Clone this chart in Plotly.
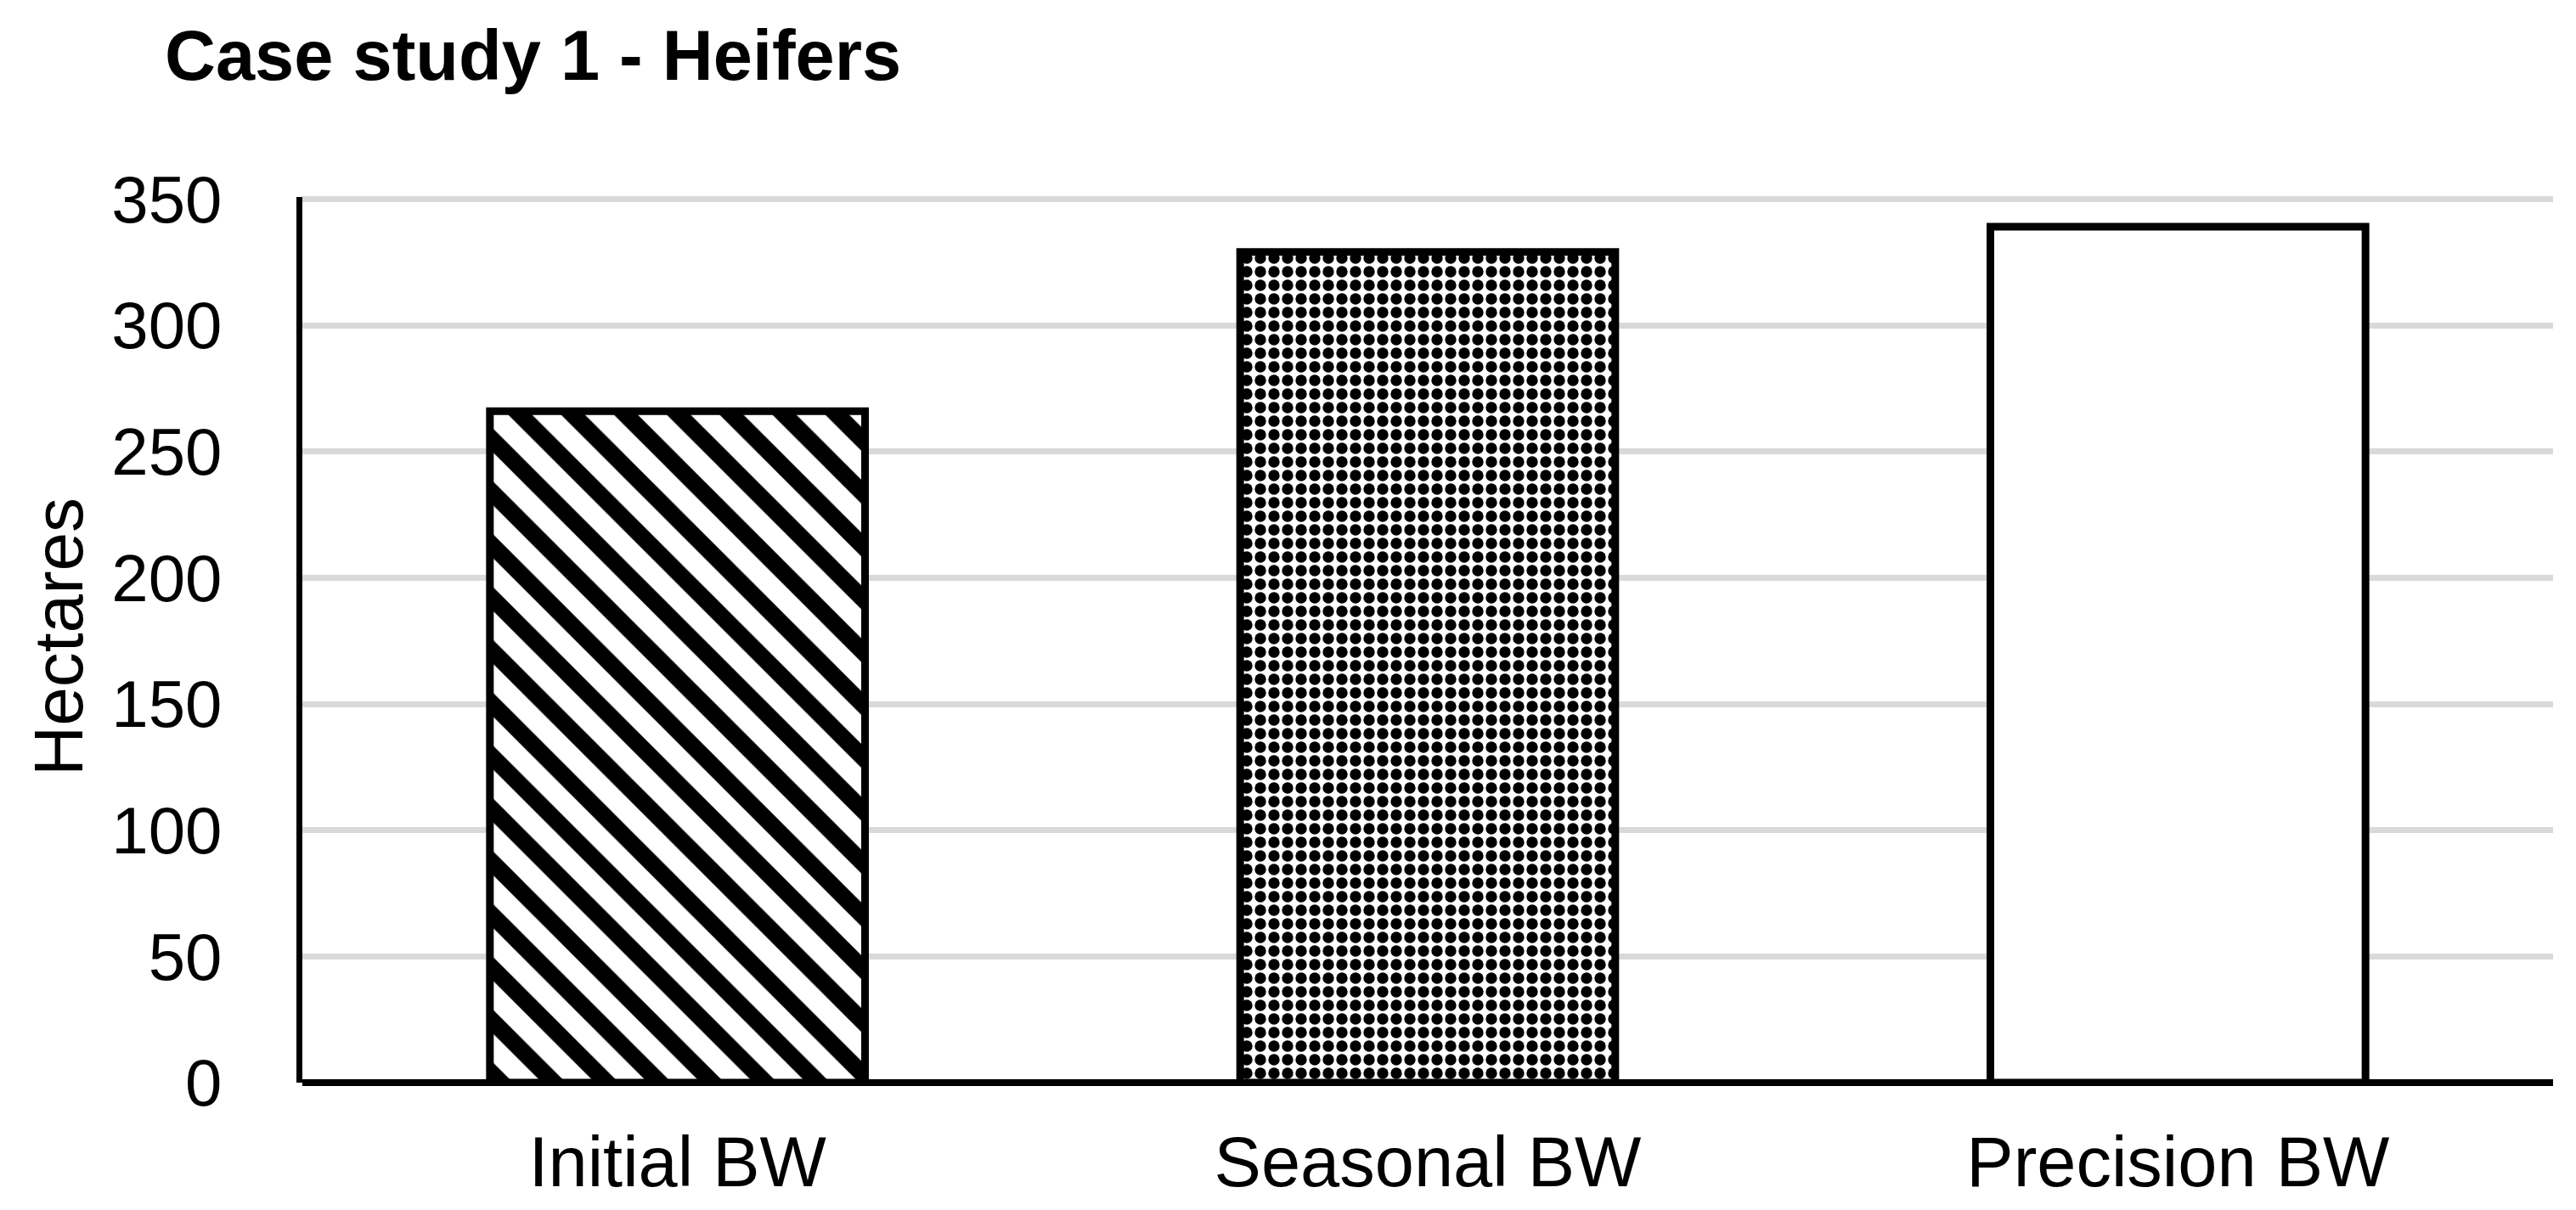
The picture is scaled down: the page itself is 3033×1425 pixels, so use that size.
import plotly.graph_objects as go

categories = ["Initial BW", "Seasonal BW", "Precision BW"]
hectares = [266, 329, 339]
pattern_shapes = ["\\", ".", ""]
y_ticks = [0, 50, 100, 150, 200, 250, 300, 350]

W, H = 3033, 1425
L, R, T, B = 348, 35, 224, 158

fig = go.Figure()
fig.add_trace(go.Bar(
    x=categories,
    y=hectares,
    width=0.5,
    marker=dict(
        color="white",
        line=dict(color="black", width=9),
        pattern=dict(
            shape=pattern_shapes,
            fgcolor="black",
            bgcolor="white",
            size=[44, 16, 10],
            solidity=[0.45, 0.55, 0.3],
            fillmode="replace",
        ),
    ),
    showlegend=False,
))

font_family = "Liberation Sans, Arial, sans-serif"

fig.update_layout(
    width=W, height=H,
    margin=dict(l=L, r=R, t=T, b=B, pad=0),
    paper_bgcolor="white",
    plot_bgcolor="white",
    font=dict(family=font_family, color="black"),
    title=dict(
        text="<b>Case study 1 - Heifers</b>",
        font=dict(size=83, family=font_family, color="black"),
        xref="container", yref="container",
        x=186 / W, xanchor="left",
        y=1 - 57 / H, yanchor="middle",
    ),
    bargap=0.5,
    xaxis=dict(
        showgrid=False,
        showline=False,
        ticks="",
        tickfont=dict(size=83),
        ticklabelstandoff=38,
    ),
    yaxis=dict(
        range=[0, 350.8],
        tickvals=y_ticks,
        ticktext=[str(v) for v in y_ticks],
        showgrid=True,
        gridcolor="#d9d9d9",
        gridwidth=7,
        zeroline=True,
        zerolinecolor="black",
        zerolinewidth=8,
        showline=True,
        linecolor="black",
        linewidth=7,
        ticks="",
        tickfont=dict(size=78),
        ticklabelstandoff=72,
    ),
    annotations=[dict(
        text="Hectares",
        textangle=-90,
        xref="paper", yref="paper",
        x=(60 - L) / (W - L - R), xanchor="center",
        y=1 - (742 - T) / (H - T - B), yanchor="middle",
        showarrow=False,
        font=dict(size=82, family=font_family, color="black"),
    )],
)

fig.write_html("out.html")
